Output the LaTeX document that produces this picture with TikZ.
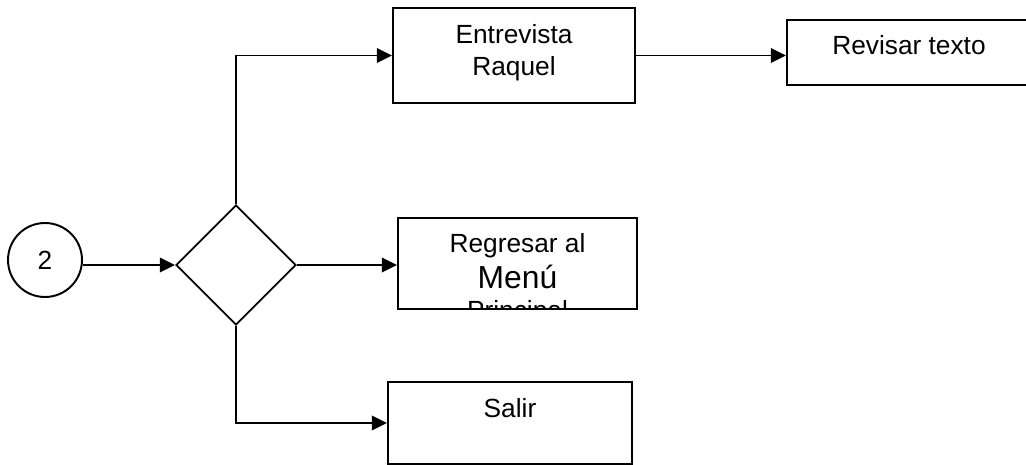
\documentclass[tikz,border=0pt]{standalone}
\usepackage{fontspec}
\setmainfont{Liberation Sans}
\usetikzlibrary{shapes.geometric, arrows.meta}

\begin{document}
\begin{tikzpicture}[x=0.0254cm, y=-0.0254cm,
    caja/.style={draw, line width=1.4pt, inner sep=0pt},
    texto/.style={anchor=north, inner sep=0pt, align=center, font=\fontsize{19}{23.5}\selectfont},
    flecha/.style={line width=1.4pt, -{Triangle[length=11pt,width=10.5pt]}}]
    \useasboundingbox (0,0) rectangle (1026,465);

    % inicio y decision
    \node[caja, circle, minimum size=1.88cm, font=\fontsize{19}{22}\selectfont] (dos) at (45,260) {2};
    \node[caja, diamond, minimum width=3.05cm, minimum height=3.05cm] (decision) at (236,265) {};

    % cajas
    \node[caja, minimum width=6.15cm, minimum height=2.41cm] (entrevista) at (514,55.5) {};
    \node[caja, minimum width=6.2cm, minimum height=1.65cm] (revisar) at (909,52.5) {};
    \node[caja, minimum width=6.07cm, minimum height=2.31cm] (regresar) at (517.5,263.5) {};
    \node[caja, minimum width=6.2cm, minimum height=2.08cm] (salir) at (510,423) {};

    % textos
    \node[texto] (entrevista-txt) at ([yshift=-12pt]entrevista.north) {Entrevista\\Raquel};
    \node[texto] (revisar-txt) at ([yshift=-12pt]revisar.north) {Revisar texto};
    \node[texto] (salir-txt) at ([yshift=-12pt]salir.north) {Salir};
    \begin{scope}
        \clip (regresar.north west) rectangle (regresar.south east);
        \node[texto] (regresar-txt) at ([yshift=-12pt]regresar.north)
            {Regresar al\\[2pt]{\fontsize{23}{26}\selectfont Menú}\\[-1pt]Principal};
    \end{scope}

    % conectores
    \draw[flecha] (dos.east |- decision.west) -- (decision.west);
    \draw[flecha] (decision.north) |- (entrevista.west);
    \draw[flecha] (entrevista.east) -- (entrevista.east -| revisar.west);
    \draw[flecha] (decision.east) -- (decision.east -| regresar.west);
    \draw[flecha] (decision.south) |- (salir.west);
\end{tikzpicture}
\end{document}
